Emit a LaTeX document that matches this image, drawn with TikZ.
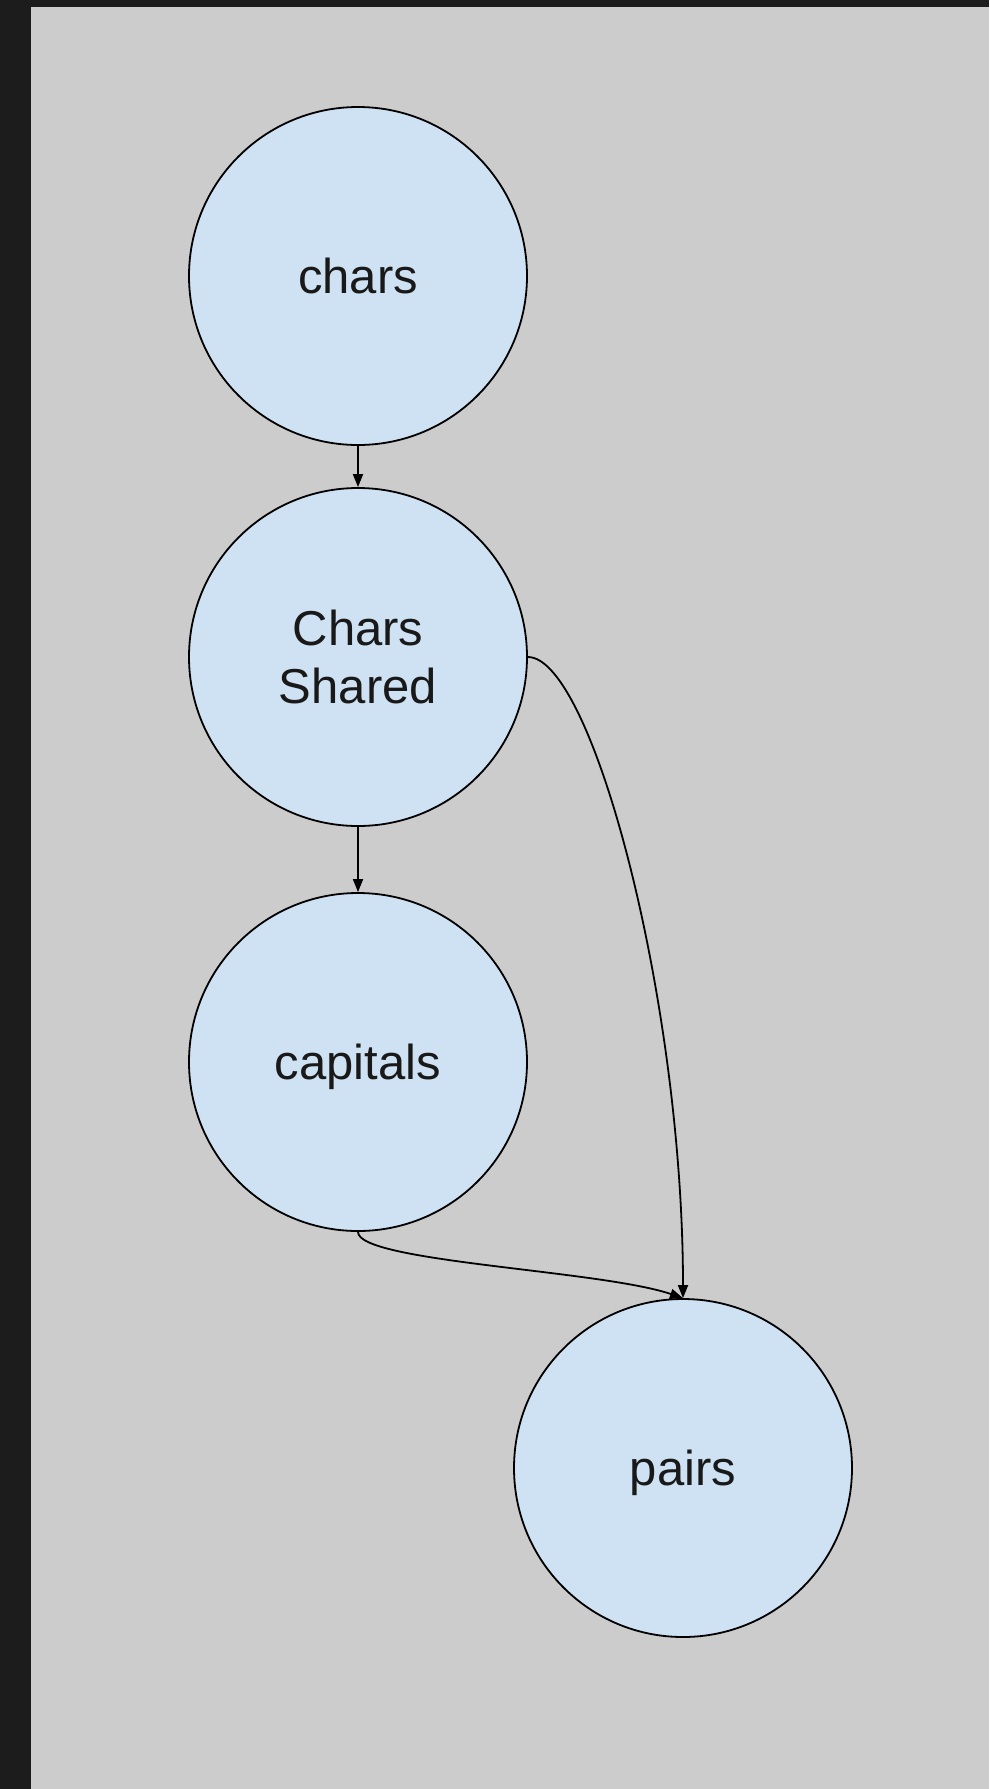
\documentclass[tikz,border=0pt]{standalone}
\usepackage{fontspec}
\setmainfont{Liberation Sans}
\usetikzlibrary{arrows.meta}
\definecolor{bgdark}{HTML}{1C1C1C}
\definecolor{bggray}{HTML}{CCCCCC}
\definecolor{nodefill}{HTML}{CFE2F3}
\tikzset{
  circ/.style={circle, draw=black, line width=1.8pt, fill=nodefill, minimum size=338pt, inner sep=0pt,
    font=\fontsize{49}{58}\selectfont, align=center, text=black!90},
  oneline/.style={text depth=0pt},
  conn/.style={line width=1.8pt, -{Triangle[length=13pt,width=10pt]}}
}
\begin{document}
\begin{tikzpicture}[x=1pt,y=-1pt]
\fill[bgdark] (0,0) rectangle (989,1789);
\fill[bggray] (31,7) rectangle (989,1789);
\useasboundingbox (0,0) rectangle (989,1789);
\node[circ,oneline] (chars) at (358,276) {chars};
\node[circ] (shared) at (358,657) {Chars\\Shared};
\node[circ,oneline] (capitals) at (358,1062) {capitals};
\node[circ,oneline] (pairs) at (683,1468) {pairs};
\draw[conn] (chars.south) -- (shared.north);
\draw[conn] (shared.south) -- (capitals.north);
\draw[conn] (shared.east) .. controls (592,657) and (683,1000) .. (pairs.north);
\draw[conn] (capitals.south) .. controls (358,1262) and (600,1270) .. (pairs.north);
\end{tikzpicture}
\end{document}
